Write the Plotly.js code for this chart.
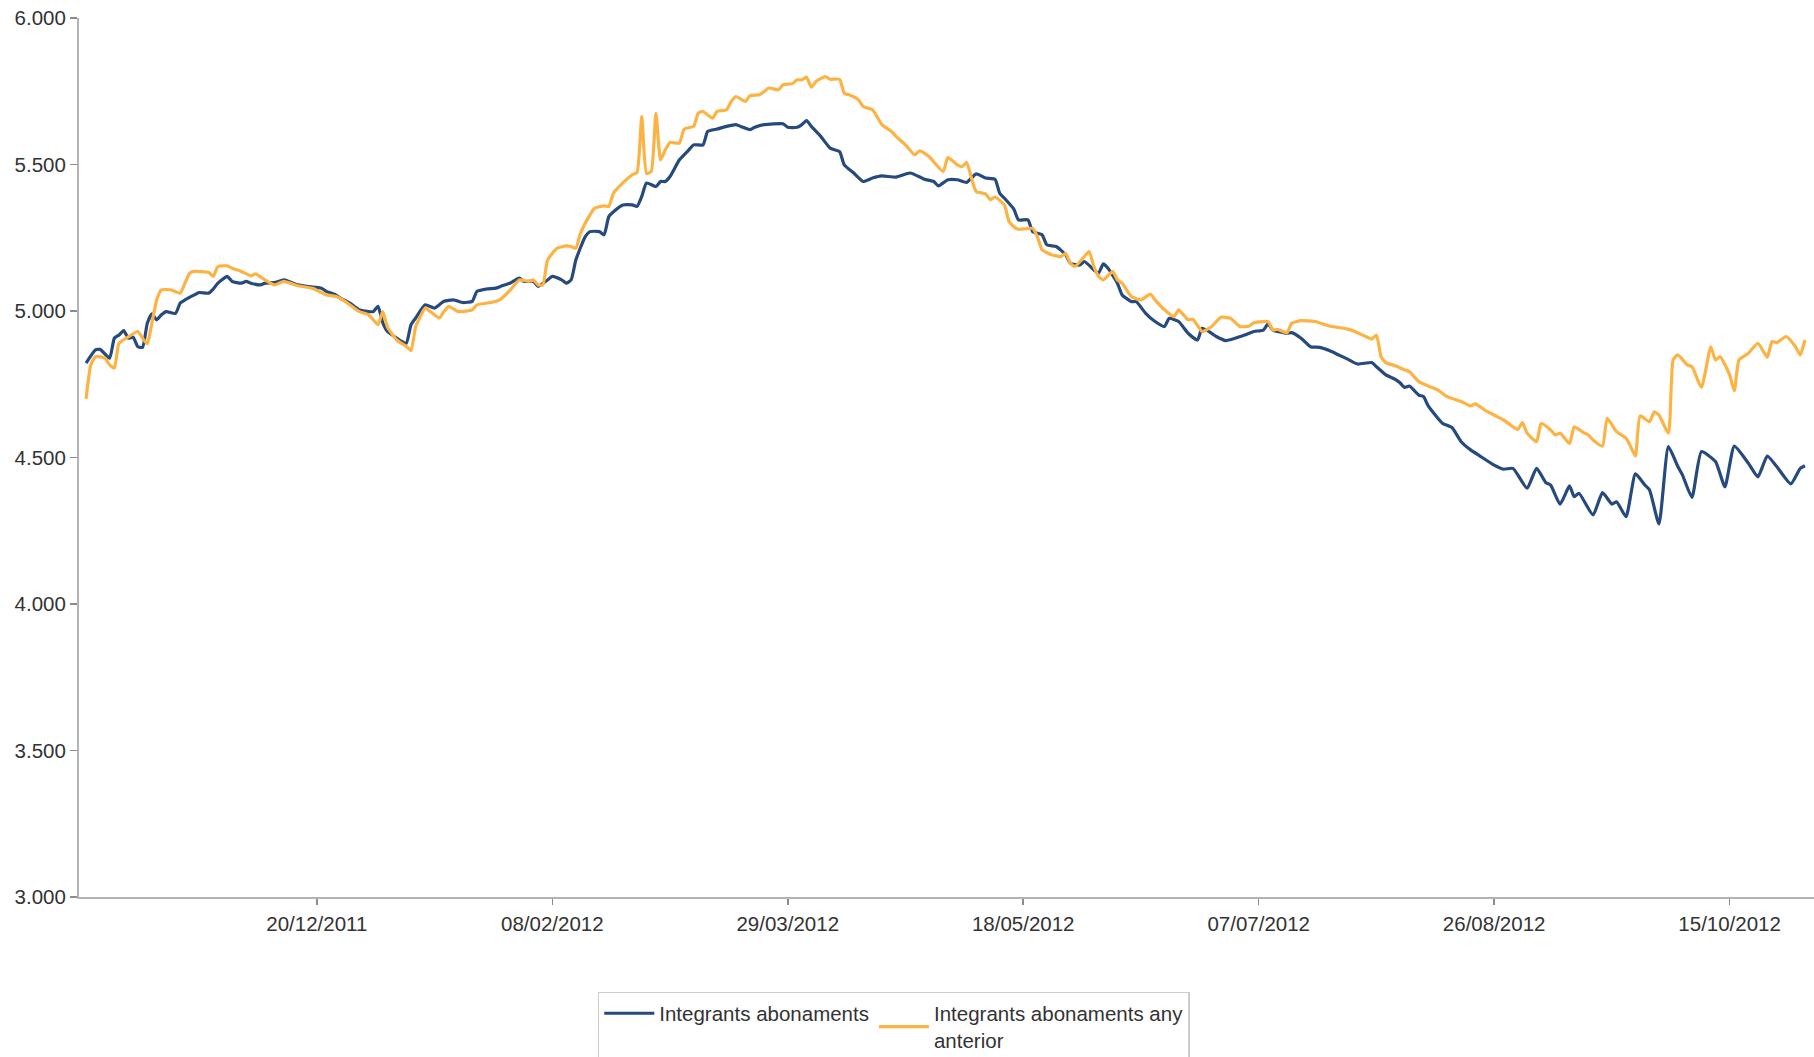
<!DOCTYPE html>
<html>
<head>
<meta charset="utf-8">
<script src="https://cdn.plot.ly/plotly-3.0.1.min.js"></script>
<style>
  html, body { margin: 0; padding: 0; background: #ffffff; }
  #chart { width: 1814px; height: 1057px; }
</style>
</head>
<body>
<div id="chart"></div>
<script>
// ---- Data ----
const seriesNames = ["Integrants abonaments", "Integrants abonaments any<br>anterior"];

const tickDates = ["2011-12-20", "2012-02-08", "2012-03-29", "2012-05-18", "2012-07-07", "2012-08-26", "2012-10-15"];

const yTicks = [3000, 3500, 4000, 4500, 5000, 5500, 6000];

const datesCurrent = [
 "2011-11-01","2011-11-03","2011-11-04","2011-11-06","2011-11-07","2011-11-08","2011-11-09","2011-11-10","2011-11-11","2011-11-12",
 "2011-11-13","2011-11-14","2011-11-15","2011-11-16","2011-11-17","2011-11-18","2011-11-20","2011-11-21","2011-11-22","2011-11-24",
 "2011-11-25","2011-11-27","2011-11-28","2011-11-29","2011-12-01","2011-12-02","2011-12-04","2011-12-05","2011-12-06","2011-12-08",
 "2011-12-09","2011-12-11","2011-12-13","2011-12-14","2011-12-16","2011-12-18","2011-12-21","2011-12-22","2011-12-24","2011-12-25",
 "2011-12-27","2011-12-29","2011-12-31","2012-01-01","2012-01-02","2012-01-03","2012-01-04","2012-01-06","2012-01-07","2012-01-08",
 "2012-01-09","2012-01-10","2012-01-12","2012-01-14","2012-01-16","2012-01-18","2012-01-20","2012-01-22","2012-01-23","2012-01-25",
 "2012-01-27","2012-01-28","2012-01-30","2012-02-01","2012-02-02","2012-02-04","2012-02-05","2012-02-07","2012-02-08","2012-02-10",
 "2012-02-11","2012-02-12","2012-02-13","2012-02-15","2012-02-16","2012-02-18","2012-02-19","2012-02-20","2012-02-21","2012-02-23",
 "2012-02-25","2012-02-26","2012-02-27","2012-02-28","2012-03-01","2012-03-02","2012-03-03","2012-03-04","2012-03-06","2012-03-08",
 "2012-03-09","2012-03-11","2012-03-12","2012-03-14","2012-03-16","2012-03-18","2012-03-19","2012-03-21","2012-03-22","2012-03-24",
 "2012-03-28","2012-03-29","2012-03-31","2012-04-01","2012-04-02","2012-04-03","2012-04-05","2012-04-07","2012-04-09","2012-04-10",
 "2012-04-12","2012-04-14","2012-04-16","2012-04-18","2012-04-21","2012-04-24","2012-04-27","2012-04-29","2012-04-30","2012-05-02",
 "2012-05-04","2012-05-06","2012-05-08","2012-05-10","2012-05-12","2012-05-13","2012-05-14","2012-05-16","2012-05-17","2012-05-19",
 "2012-05-20","2012-05-22","2012-05-23","2012-05-25","2012-05-27","2012-05-28","2012-05-30","2012-05-31","2012-06-02","2012-06-03",
 "2012-06-04","2012-06-05","2012-06-07","2012-06-08","2012-06-10","2012-06-11","2012-06-13","2012-06-15","2012-06-17","2012-06-18",
 "2012-06-20","2012-06-22","2012-06-24","2012-06-25","2012-06-27","2012-06-28","2012-06-30","2012-07-02","2012-07-04","2012-07-06",
 "2012-07-08","2012-07-09","2012-07-10","2012-07-13","2012-07-14","2012-07-16","2012-07-18","2012-07-20","2012-07-22","2012-07-24",
 "2012-07-26","2012-07-28","2012-07-31","2012-08-01","2012-08-03","2012-08-05","2012-08-06","2012-08-07","2012-08-08","2012-08-10",
 "2012-08-11","2012-08-12","2012-08-15","2012-08-17","2012-08-19","2012-08-21","2012-08-23","2012-08-26","2012-08-28","2012-08-30",
 "2012-09-02","2012-09-04","2012-09-06","2012-09-07","2012-09-09","2012-09-11","2012-09-12","2012-09-13","2012-09-16","2012-09-18",
 "2012-09-20","2012-09-21","2012-09-23","2012-09-25","2012-09-27","2012-09-28","2012-09-30","2012-10-02","2012-10-04","2012-10-05",
 "2012-10-07","2012-10-09","2012-10-12","2012-10-14","2012-10-16","2012-10-19","2012-10-21","2012-10-23","2012-10-25","2012-10-28",
 "2012-10-30","2012-10-31"
];
const valuesCurrent = [
 4822,4867,4869,4839,4907,4918,4933,4907,4911,4878,
 4876,4958,4990,4970,4987,4998,4992,5027,5038,5055,
 5063,5061,5075,5095,5118,5101,5095,5101,5095,5089,
 5095,5097,5106,5101,5089,5084,5078,5067,5055,5044,
 5027,5004,4998,4998,5016,4960,4930,4907,4896,4890,
 4953,4976,5021,5010,5033,5038,5029,5033,5067,5075,
 5078,5084,5095,5112,5101,5101,5084,5106,5118,5106,
 5095,5106,5174,5254,5271,5271,5260,5322,5339,5362,
 5362,5357,5391,5437,5425,5442,5442,5459,5516,5550,
 5567,5567,5613,5621,5630,5636,5630,5619,5627,5636,
 5639,5627,5627,5636,5650,5630,5596,5556,5544,5499,
 5471,5442,5454,5461,5457,5471,5450,5442,5427,5448,
 5448,5439,5468,5454,5450,5402,5385,5348,5311,5311,
 5271,5260,5226,5220,5192,5163,5157,5169,5140,5129,
 5161,5146,5095,5055,5032,5032,4992,4964,4947,4975,
 4964,4924,4901,4941,4924,4913,4899,4907,4918,4930,
 4935,4956,4935,4924,4926,4907,4878,4876,4865,4850,
 4835,4819,4824,4810,4782,4767,4755,4739,4744,4713,
 4708,4676,4617,4603,4554,4526,4505,4474,4460,4463,
 4395,4463,4414,4406,4341,4403,4366,4378,4304,4380,
 4341,4349,4298,4444,4406,4389,4273,4537,4469,4440,
 4364,4520,4486,4400,4539,4480,4434,4505,4469,4410,
 4463,4472
];

const datesPrevious = [
 "2011-11-01","2011-11-02","2011-11-03","2011-11-05","2011-11-06","2011-11-07","2011-11-08","2011-11-10","2011-11-12","2011-11-13",
 "2011-11-14","2011-11-15","2011-11-16","2011-11-17","2011-11-19","2011-11-21","2011-11-22","2011-11-23","2011-11-24","2011-11-27",
 "2011-11-28","2011-11-29","2011-12-01","2011-12-02","2011-12-04","2011-12-06","2011-12-07","2011-12-09","2011-12-11","2011-12-12",
 "2011-12-13","2011-12-16","2011-12-19","2011-12-22","2011-12-24","2011-12-26","2011-12-29","2011-12-31","2012-01-02","2012-01-03",
 "2012-01-04","2012-01-06","2012-01-08","2012-01-09","2012-01-10","2012-01-11","2012-01-12","2012-01-15","2012-01-16","2012-01-17",
 "2012-01-19","2012-01-22","2012-01-23","2012-01-26","2012-01-28","2012-01-30","2012-02-01","2012-02-03","2012-02-04","2012-02-05",
 "2012-02-06","2012-02-07","2012-02-09","2012-02-11","2012-02-12","2012-02-13","2012-02-14","2012-02-16","2012-02-17","2012-02-19",
 "2012-02-20","2012-02-21","2012-02-23","2012-02-25","2012-02-26","2012-02-27","2012-02-28","2012-02-29","2012-03-01","2012-03-02",
 "2012-03-03","2012-03-04","2012-03-06","2012-03-07","2012-03-09","2012-03-10","2012-03-11","2012-03-13","2012-03-14","2012-03-16",
 "2012-03-17","2012-03-18","2012-03-20","2012-03-21","2012-03-23","2012-03-24","2012-03-25","2012-03-27","2012-03-28","2012-03-30",
 "2012-03-31","2012-04-01","2012-04-02","2012-04-03","2012-04-04","2012-04-06","2012-04-07","2012-04-09","2012-04-10","2012-04-11",
 "2012-04-13","2012-04-14","2012-04-16","2012-04-18","2012-04-20","2012-04-21","2012-04-23","2012-04-25","2012-04-26","2012-04-28",
 "2012-05-01","2012-05-02","2012-05-04","2012-05-05","2012-05-06","2012-05-07","2012-05-08","2012-05-10","2012-05-11","2012-05-12",
 "2012-05-14","2012-05-15","2012-05-16","2012-05-17","2012-05-20","2012-05-21","2012-05-22","2012-05-24","2012-05-26","2012-05-27",
 "2012-05-28","2012-05-29","2012-05-31","2012-06-01","2012-06-02","2012-06-03","2012-06-04","2012-06-06","2012-06-07","2012-06-08",
 "2012-06-10","2012-06-12","2012-06-14","2012-06-15","2012-06-17","2012-06-19","2012-06-20","2012-06-22","2012-06-23","2012-06-25",
 "2012-06-27","2012-06-29","2012-07-01","2012-07-03","2012-07-05","2012-07-06","2012-07-08","2012-07-09","2012-07-10","2012-07-11",
 "2012-07-13","2012-07-14","2012-07-16","2012-07-19","2012-07-22","2012-07-26","2012-07-28","2012-07-30","2012-07-31","2012-08-01",
 "2012-08-02","2012-08-03","2012-08-05","2012-08-07","2012-08-08","2012-08-10","2012-08-12","2012-08-14","2012-08-16","2012-08-19",
 "2012-08-21","2012-08-22","2012-08-24","2012-08-26","2012-08-28","2012-08-31","2012-09-01","2012-09-02","2012-09-04","2012-09-05",
 "2012-09-07","2012-09-08","2012-09-09","2012-09-11","2012-09-12","2012-09-14","2012-09-15","2012-09-16","2012-09-18","2012-09-19",
 "2012-09-21","2012-09-23","2012-09-24","2012-09-25","2012-09-26","2012-09-28","2012-09-29","2012-09-30","2012-10-02","2012-10-03",
 "2012-10-04","2012-10-06","2012-10-07","2012-10-09","2012-10-11","2012-10-12","2012-10-13","2012-10-15","2012-10-16","2012-10-17",
 "2012-10-19","2012-10-21","2012-10-23","2012-10-24","2012-10-25","2012-10-27","2012-10-29","2012-10-30","2012-10-31"
];
const valuesPrevious = [
 4700,4816,4844,4839,4816,4805,4890,4912,4930,4907,
 4888,4960,5038,5072,5072,5061,5095,5129,5135,5132,
 5118,5152,5154,5146,5135,5120,5127,5106,5089,5095,
 5101,5086,5078,5055,5050,5033,4998,4987,4953,4998,
 4945,4901,4879,4865,4947,4981,5010,4976,4998,5016,
 4998,5004,5021,5029,5040,5070,5106,5101,5106,5089,
 5089,5174,5214,5222,5220,5214,5266,5328,5351,5359,
 5357,5402,5437,5465,5473,5664,5470,5476,5675,5516,
 5550,5575,5573,5621,5630,5675,5681,5658,5681,5687,
 5715,5732,5715,5735,5738,5749,5761,5755,5772,5776,
 5789,5789,5798,5764,5783,5800,5791,5791,5743,5738,
 5721,5698,5687,5636,5613,5596,5567,5533,5547,5527,
 5476,5524,5499,5493,5507,5454,5408,5400,5380,5389,
 5362,5305,5288,5279,5282,5254,5209,5192,5186,5197,
 5163,5152,5186,5203,5152,5118,5106,5135,5106,5095,
 5049,5038,5058,5038,5004,4981,5004,4970,4972,4930,
 4947,4979,4975,4947,4949,4960,4964,4964,4935,4937,
 4926,4958,4967,4964,4949,4938,4926,4911,4904,4918,
 4844,4824,4813,4799,4793,4759,4744,4731,4708,4691,
 4676,4683,4662,4645,4628,4596,4619,4583,4554,4617,
 4594,4577,4583,4548,4605,4585,4577,4560,4539,4634,
 4588,4566,4537,4505,4642,4622,4656,4645,4583,4833,
 4850,4816,4810,4739,4878,4833,4844,4782,4728,4833,
 4856,4890,4842,4896,4892,4913,4878,4850,4901
];

// ---- Styles ----
const colorCurrent = "#264a7e";
const colorPrevious = "#fdb343";
const textColor = "#333333";
const fontFamily = "'Liberation Sans', Arial, Helvetica, sans-serif";

const traces = [
  {
    type: "scatter", mode: "lines",
    x: datesCurrent, y: valuesCurrent,
    name: seriesNames[0],
    line: { color: colorCurrent, width: 3.2, shape: "spline", smoothing: 0.5 },
    hoverinfo: "x+y"
  },
  {
    type: "scatter", mode: "lines",
    x: datesPrevious, y: valuesPrevious,
    name: seriesNames[1],
    line: { color: colorPrevious, width: 3.2, shape: "spline", smoothing: 0.5 },
    hoverinfo: "x+y"
  }
];

const layout = {
  width: 1814, height: 1057,
  paper_bgcolor: "#ffffff", plot_bgcolor: "#ffffff",
  separators: ",.",
  font: { family: fontFamily, size: 20, color: textColor },
  margin: { l: 79, r: 0, t: 18, b: 160, autoexpand: false },
  showlegend: true,
  xaxis: {
    type: "date",
    range: ["2011-10-30 12:00", "2012-11-01 22:00"],
    tickmode: "array",
    tickvals: tickDates,
    tickformat: "%d/%m/%Y",
    showgrid: false, zeroline: false,
    showline: true, linecolor: "#b3b3b3", linewidth: 2,
    ticks: "outside", ticklen: 6, tickwidth: 1.5, tickcolor: "#8c8c8c",
    ticklabelstandoff: 1,
    tickfont: { family: fontFamily, size: 20.5, color: textColor }
  },
  yaxis: {
    range: [3000, 6000],
    tickmode: "array",
    tickvals: yTicks,
    tickformat: ",d",
    showgrid: false, zeroline: false,
    showline: true, linecolor: "#b3b3b3", linewidth: 2,
    ticks: "outside", ticklen: 7, tickwidth: 1.5, tickcolor: "#8c8c8c",
    tickfont: { family: fontFamily, size: 20.5, color: textColor }
  },
  legend: {
    orientation: "h",
    x: 0.299, xanchor: "left",
    y: -0.108, yanchor: "top",
    bordercolor: "#cccccc", borderwidth: 1.5,
    bgcolor: "#ffffff",
    font: { family: fontFamily, size: 20.5, color: textColor },
    valign: "middle",
    itemwidth: 50
  }
};

Plotly.newPlot("chart", traces, layout, { staticPlot: true, displayModeBar: false });
</script>
</body>
</html>
